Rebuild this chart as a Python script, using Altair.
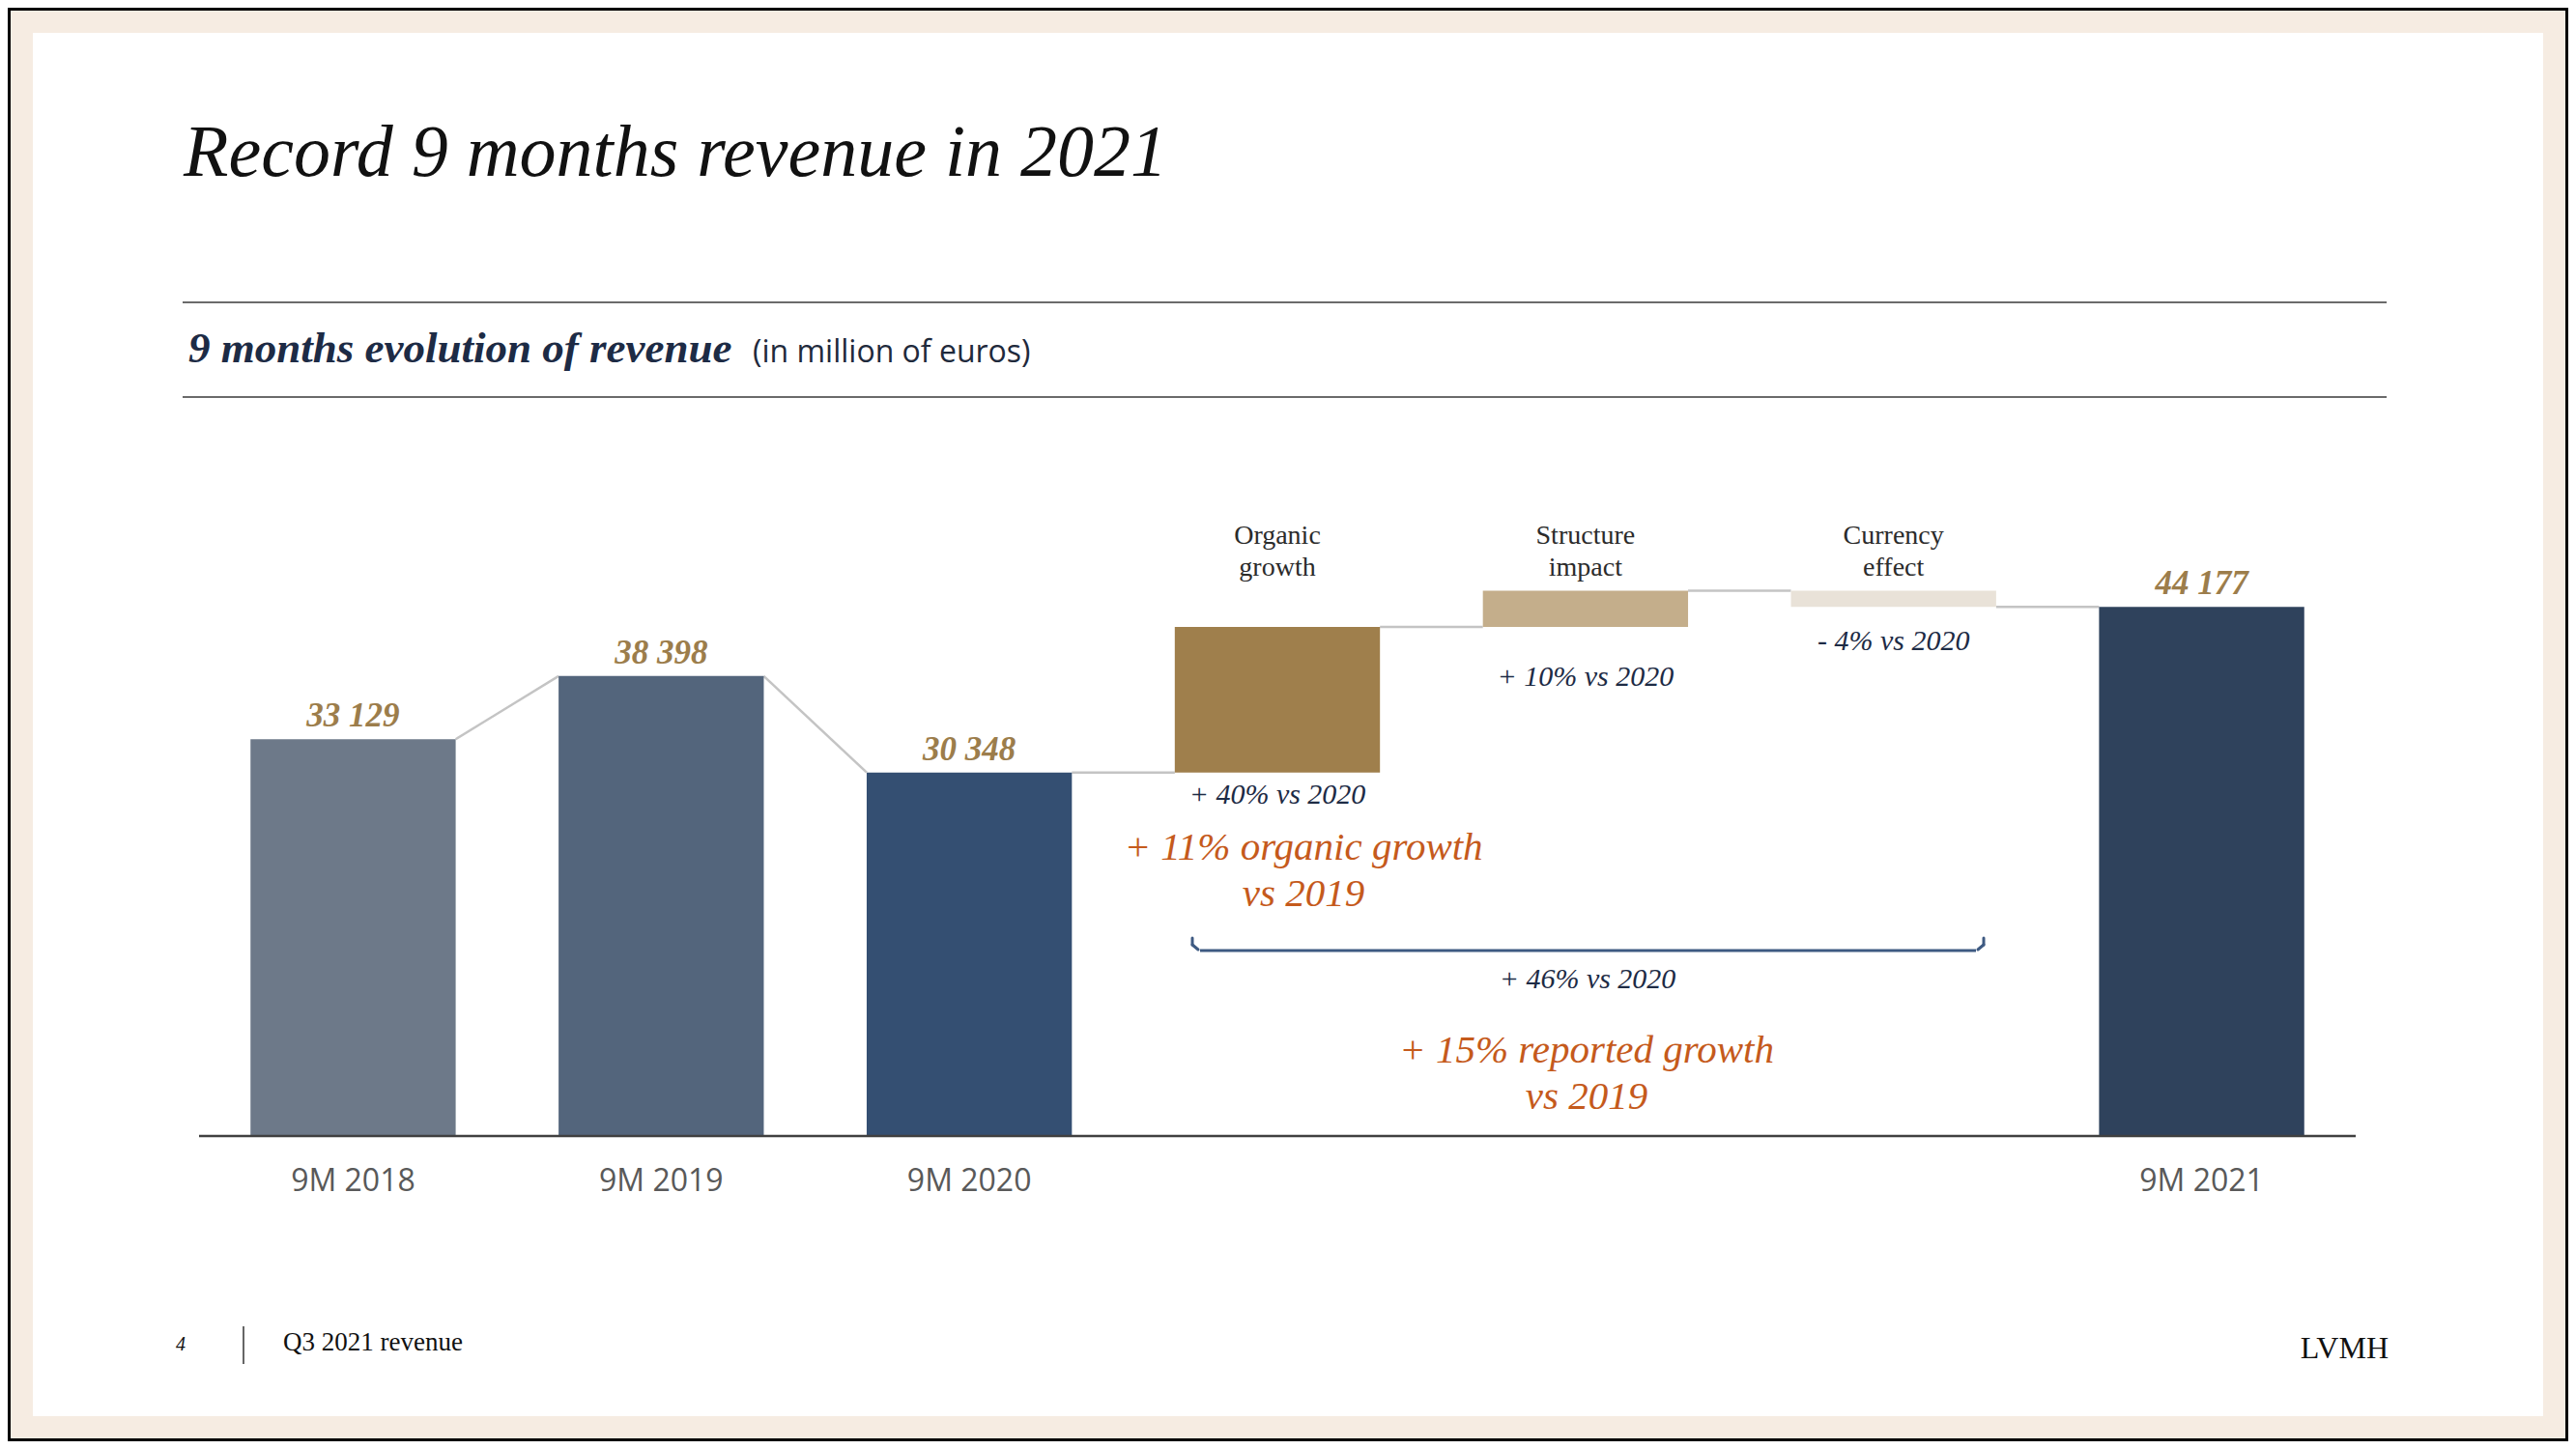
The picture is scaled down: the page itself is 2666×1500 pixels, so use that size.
import altair as alt
import pandas as pd

# ---------------- data ----------------
title_text = "Record 9 months revenue in 2021"
subtitle_bold = "9 months evolution of revenue"
subtitle_unit = "(in million of euros)"

period_labels = ["9M 2018", "9M 2019", "9M 2020"]
period_values = [33129, 38398, 30348]
bridge_labels = ["Organic\ngrowth", "Structure\nimpact", "Currency\neffect"]
bridge_deltas = [12150, 3025, -1346]
bridge_pct = ["+ 40% vs 2020", "+ 10% vs 2020", "- 4% vs 2020"]
final_label = "9M 2021"
final_value = 44177
total_pct = "+ 46% vs 2020"
organic_note = ["+ 11% organic growth", "vs 2019"]
reported_note = ["+ 15% reported growth", "vs 2019"]
footer_page = "4"
footer_text = "Q3 2021 revenue"
brand = "LVMH"

bar_colors = ["#6D7989", "#53657C", "#344F72", "#9F7F4C", "#C4AE8B", "#E9E2D8", "#2F425C"]

# ---------------- layout constants ----------------
W, H = 2232, 620
PAD = {"left": 198, "top": 548, "right": 220, "bottom": 316}
HW = 0.333  # half bar width in category units

SERIF = "Liberation Serif"
SANS = "Open Sans"
GOLD = "#9C7D4B"
NAVY = "#1D2B45"
ORANGE = "#C55A1C"

# ---------------- build tables ----------------
rows = []
idx = 0
for lab, v in zip(period_labels, period_values):
    rows.append(dict(i=idx, key=str(idx), name=lab, lo=0, hi=v, start=0, end=v, kind="total"))
    idx += 1
cum = period_values[-1]
for lab, d in zip(bridge_labels, bridge_deltas):
    s = cum
    cum = cum + d
    rows.append(dict(i=idx, key=str(idx), name=lab, lo=min(s, cum), hi=max(s, cum), start=s, end=cum, kind="bridge"))
    idx += 1
rows.append(dict(i=idx, key=str(idx), name=final_label, lo=0, hi=final_value, start=0, end=final_value, kind="total"))
bars = pd.DataFrame(rows)
bars["x0"] = bars["i"] - HW
bars["x1"] = bars["i"] + HW
bars["value_label"] = bars["hi"].map(lambda v: f"{v:,}".replace(",", " "))

conn = []
for a, b in zip(rows[:-1], rows[1:]):
    y_to = b["hi"] if b["kind"] == "total" else b["start"]
    conn.append(dict(cx0=a["i"] + HW, cx1=b["i"] - HW, cy0=a["end"], cy1=y_to))
conn = pd.DataFrame(conn)

totals = bars[bars["kind"] == "total"]
bridges = bars[bars["kind"] == "bridge"].reset_index(drop=True)

xs = alt.Scale(domain=[-0.5, 6.5], nice=False, zero=False)
ys = alt.Scale(domain=[0, 50000], nice=False, zero=True)
one = pd.DataFrame({"a": [0]})


def txt(s, x, y, size, color, font=SERIF, style="normal", weight="normal", align="left", lh=None):
    kw = dict(text=s, fontSize=size, color=color, font=font, fontStyle=style,
              fontWeight=weight, align=align, baseline="alphabetic")
    if "\n" in s:
        kw["lineBreak"] = "\n"
        kw["lineHeight"] = lh
    return alt.Chart(one).mark_text(**kw).encode(x=alt.value(x), y=alt.value(y))


def hrule(x0, x1, y, color, width):
    return alt.Chart(one).mark_rule(color=color, strokeWidth=width).encode(
        x=alt.value(x0), x2=alt.value(x1), y=alt.value(y))


layers = []

# white panel and outer frame
layers.append(alt.Chart(one).mark_rect(color="#FFFFFF").encode(
    x=alt.value(-172), x2=alt.value(2426), y=alt.value(-522), y2=alt.value(910)))
layers.append(alt.Chart(one).mark_rect(fillOpacity=0, stroke="#000000", strokeWidth=6).encode(
    x=alt.value(-198), x2=alt.value(2452), y=alt.value(-548), y2=alt.value(936)))

# title block
layers.append(txt(title_text, -16, -374, 76, "#111111", style="italic"))
layers.append(hrule(-17, 2264, -243, "#3A3A3A", 1.5))
layers.append(hrule(-17, 2264, -145, "#3A3A3A", 1.5))
layers.append(txt(subtitle_bold, -11, -181, 45, NAVY, style="italic", weight="bold"))
layers.append(txt(subtitle_unit, 573, -181, 32, "#1F2A3C", font=SANS))

# connectors
layers.append(alt.Chart(conn).mark_rule(color="#C4C4C4", strokeWidth=2.5).encode(
    x=alt.X("cx0:Q", scale=xs, axis=None), x2="cx1:Q",
    y=alt.Y("cy0:Q", scale=ys, axis=None), y2="cy1:Q"))

# bars
layers.append(alt.Chart(bars).mark_bar().encode(
    x=alt.X("x0:Q", scale=xs, axis=None), x2="x1:Q",
    y=alt.Y("lo:Q", scale=ys, axis=None), y2="hi:Q",
    color=alt.Color("key:N", scale=alt.Scale(domain=list(bars["key"]), range=bar_colors), legend=None)))

# baseline
layers.append(hrule(0, W, H, "#404040", 2.5))

# value labels on totals
layers.append(alt.Chart(totals).mark_text(font=SERIF, fontSize=35, fontStyle="italic", fontWeight="bold",
                                          color=GOLD, baseline="alphabetic", dy=-13).encode(
    x=alt.X("i:Q", scale=xs, axis=None), y=alt.Y("hi:Q", scale=ys, axis=None), text="value_label:N"))

# x labels under totals
layers.append(alt.Chart(totals).mark_text(font=SANS, fontSize=32, color="#595959", baseline="alphabetic").encode(
    x=alt.X("i:Q", scale=xs, axis=None), y=alt.value(677), text="name:N"))

# bridge headers
layers.append(alt.Chart(bridges).mark_text(font=SERIF, fontSize=28, color="#2B2B2B", baseline="alphabetic",
                                           lineBreak="\n", lineHeight=33).encode(
    x=alt.X("i:Q", scale=xs, axis=None), y=alt.value(7), text="name:N"))

# bridge percentages
pct_y = [276, 154, 117]
for k, p in enumerate(bridge_pct):
    d = pd.DataFrame({"i": [bridges.loc[k, "i"]], "t": [p]})
    layers.append(alt.Chart(d).mark_text(font=SERIF, fontSize=30, fontStyle="italic", color=NAVY,
                                         baseline="alphabetic").encode(
        x=alt.X("i:Q", scale=xs, axis=None), y=alt.value(pct_y[k]), text="t:N"))

# brace
BR = "#3E5A82"
layers.append(hrule(1036, 1839, 428, BR, 3))
for xa, xb in [(1028, 1034), (1847, 1841)]:
    layers.append(alt.Chart(one).mark_rule(color=BR, strokeWidth=3, strokeCap="round").encode(
        x=alt.value(xa), x2=alt.value(xa), y=alt.value(415), y2=alt.value(422)))
    layers.append(alt.Chart(one).mark_rule(color=BR, strokeWidth=3, strokeCap="round").encode(
        x=alt.value(xa), x2=alt.value(xb), y=alt.value(422), y2=alt.value(427)))

# notes
layers.append(txt(organic_note[0], 1143, 334, 41, ORANGE, style="italic", align="center"))
layers.append(txt(organic_note[1], 1143, 382, 41, ORANGE, style="italic", align="center"))
layers.append(txt(total_pct, 1437, 467, 30, NAVY, style="italic", align="center"))
layers.append(txt(reported_note[0], 1436, 544, 41, ORANGE, style="italic", align="center"))
layers.append(txt(reported_note[1], 1436, 592, 41, ORANGE, style="italic", align="center"))

# footer
layers.append(txt(footer_page, -19, 842, 20, "#111111", style="italic", align="center"))
layers.append(alt.Chart(one).mark_rule(color="#333333", strokeWidth=1.5).encode(
    x=alt.value(46), y=alt.value(817), y2=alt.value(856)))
layers.append(txt(footer_text, 87, 842, 27, "#111111"))
layers.append(txt(brand, 2266, 850, 32, "#111111", align="right"))

chart = alt.layer(*layers).properties(
    width=W, height=H,
    autosize=alt.AutoSizeParams(type="none"),
    padding=PAD,
    background="#F6ECE2",
).configure_view(stroke=None)

chart.save("out.html", embed_options={"renderer": "svg", "actions": False})
